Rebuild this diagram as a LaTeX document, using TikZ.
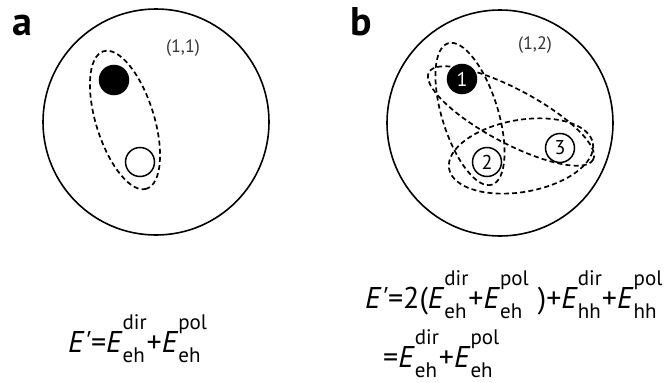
\documentclass[tikz,border=0pt]{standalone}
\usepackage{fontspec}
\setmainfont{PT Sans}
\usetikzlibrary{positioning}
\tikzset{
  cell/.style={draw, circle, line width=1.6pt, minimum size=226pt, inner sep=0pt},
  site/.style={draw, circle, line width=1.5pt, minimum size=29pt, inner sep=0pt,
               font=\fontsize{20}{20}\selectfont},
  pair/.style={line width=1.7pt, dash pattern=on 5pt off 3.2pt},
  eqn/.style={font=\fontsize{30}{36}\selectfont, anchor=base west, inner sep=0pt},
  panel/.style={font=\fontsize{40}{40}\selectfont\bfseries, anchor=base west, inner sep=0pt},
  occ/.style={font=\fontsize{18}{18}\selectfont, text=black!80},
}
% energy term with stacked upper and lower labels
\newcommand{\scrpair}[2]{{\fontsize{21}{21}\selectfont
  \setbox0\hbox{#1}\setbox2\hbox{#2}%
  \ifdim\wd0>\wd2 \rlap{\raisebox{-10pt}{#2}}\raisebox{23pt}{#1}%
  \else \rlap{\raisebox{23pt}{#1}}\raisebox{-10pt}{#2}\fi}}
\newcommand{\En}[2]{\textit{E}\scrpair{#1}{#2}}
\newcommand{\Ep}{\textit{E\kern1pt\textquotesingle}}

\begin{document}
\begin{tikzpicture}[x=1pt, y=-1pt]
  \useasboundingbox (0,0) rectangle (665,383);

  % --- Panel a ---
  \node[panel] (lblA) at (12,35) {a};
  \node[cell] (cellA) at (156,122) {};
  \node[occ] (occA) at (183,48) {(1,1)};
  \node[site, fill=black] (hA) at (114,80) {};
  \node[site] (eA) at (140,162) {};
  % pair around the two sites
  \draw[pair, rotate around={-72.6:(125,120)}] (125,120) ellipse (72 and 29);
  \node[eqn] (eqA) at (68,352) {\Ep=\En{dir}{eh}+\En{pol}{eh}};

  % --- Panel b ---
  \node[panel] (lblB) at (350,35) {b};
  \node[cell] (cellB) at (500,123) {};
  \node[occ] (occB) at (535,45) {(1,2)};
  \node[site, fill=black, text=white] (h1) at (462,79) {1};
  \node[site] (e2) at (487,162) {2};
  \node[site] (e3) at (560,148) {3};
  % pairs 1-2, 1-3, 2-3
  \draw[pair, rotate around={-72.8:(470,114)}] (470,114) ellipse (74 and 28);
  \draw[pair, rotate around={-28:(511,116)}] (511,116) ellipse (93 and 27);
  \draw[pair, rotate around={10:(521,156)}] (521,156) ellipse (73 and 36);

  \node[eqn] (eqB1) at (365,308)
    {\Ep=2(\En{dir}{eh}+\En{pol}{eh}\hspace{0.3em})+\En{dir}{hh}+\En{pol}{hh}};
  \node[eqn] (eqB2) at (383,367) {=\En{dir}{eh}+\En{pol}{eh}};
\end{tikzpicture}
\end{document}
